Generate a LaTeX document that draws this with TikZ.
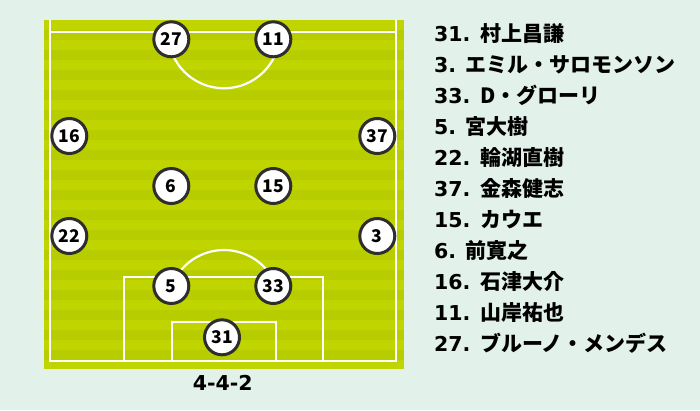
\documentclass[tikz,border=0pt]{standalone}
\usepackage{fontspec}
\setmainfont{DejaVu Sans}
\newfontfamily\jpfont{Noto Sans CJK JP}

\definecolor{mintbg}{HTML}{E2F1EA}
\definecolor{pitchdark}{HTML}{B8CD00}
\definecolor{pitchlight}{HTML}{C0D400}
\definecolor{ringgray}{HTML}{2E2E2E}

\begin{document}
\begin{tikzpicture}[x=1pt, y=-1pt,
  player/.style={circle, draw=ringgray, line width=3pt, fill=white, minimum size=35pt, inner sep=0pt, font=\jpfont\bfseries\fontsize{17.5}{17.5}\selectfont, text height=12.6pt, text depth=0pt},
  pitchline/.style={white, line width=2.2pt},
  roster/.style={anchor=base west, inner sep=0pt, font=\bfseries\fontsize{20.5}{20.5}\selectfont}]

\useasboundingbox[fill=mintbg] (0,0) rectangle (700,410);

\begin{scope}
\clip (44,20) rectangle (404,368.7);
\foreach \i in {0,...,34}{
  \ifodd\i \def\bandcol{pitchdark}\else \def\bandcol{pitchlight}\fi
  \fill[\bandcol] (44,{20+10*\i}) rectangle (404,{30+10*\i}); %stripe
}
\end{scope}

\draw[pitchline] (50.3,20) -- (50.3,360.7) -- (396,360.7) -- (396,20); %touchlines, goal line
\draw[pitchline] (50.3,32.3) -- (396,32.3); %halfway line
\draw[pitchline] (280,32.3) arc[start angle=0, end angle=180, radius=56]; %centre circle
\draw[pitchline] (124,360.7) -- (124,276.7) -- (323.3,276.7) -- (323.3,360.7); %penalty box
\draw[pitchline] (172.3,360.7) -- (172.3,322.3) -- (276,322.3) -- (276,360.7); %goal area
\draw[pitchline] (224,306) ++(-31.6:56) arc[start angle=-31.6, end angle=-148.4, radius=56]; %penalty arc

\node[player] (p27) at (171.3,39.3) {27};
\node[player] (p11) at (273.3,39.3) {11};
\node[player] (p16) at (69.3,136) {16};
\node[player] (p37) at (377.3,136) {37};
\node[player] (p6) at (171.3,186) {6};
\node[player] (p15) at (273.3,186) {15};
\node[player] (p22) at (69.3,236) {22};
\node[player] (p3) at (377.3,236) {3};
\node[player] (p5) at (171.3,286) {5};
\node[player] (p33) at (273.3,286) {33};
\node[player] (p31) at (222,337.3) {31};

\node[anchor=base, inner sep=0pt, font=\bfseries\fontsize{20.5}{20.5}\selectfont] (formation) at (222.7,390) {4-4-2};

\foreach \num/\name [count=\k from 0] in {31/村上昌謙, 3/エミル・サロモンソン, 33/D・グローリ, 5/宮大樹, 22/輪湖直樹, 37/金森健志, 15/カウエ, 6/前寛之, 16/石津大介, 11/山岸祐也, 27/ブルーノ・メンデス}
  \node[roster] (roster\k) at (434,{41.7+31*\k}) {\num. {\jpfont\bfseries\fontsize{21}{21}\selectfont\name}};

\end{tikzpicture}
\end{document}
